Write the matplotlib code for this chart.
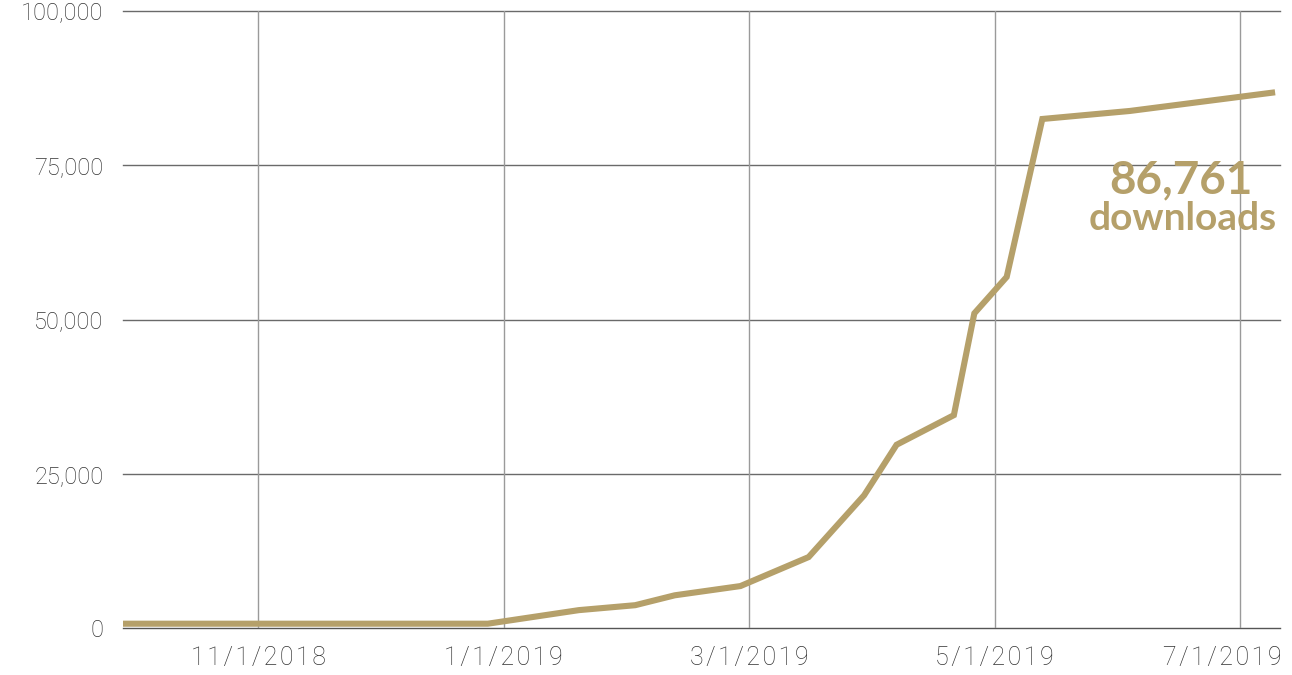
import matplotlib
matplotlib.use('Agg')
import matplotlib.pyplot as plt
import matplotlib.transforms as mtransforms
from matplotlib.ticker import FuncFormatter
import pandas as pd

# cumulative downloads
dates = ['2018-09-28', '2018-12-28', '2019-01-20', '2019-02-03', '2019-02-12',
         '2019-02-27', '2019-03-16', '2019-03-30', '2019-04-07', '2019-04-21',
         '2019-04-26', '2019-05-04', '2019-05-13', '2019-06-04', '2019-07-09']
downloads = [700, 700, 2900, 3700, 5300, 6800, 11500, 21500, 29700, 34500,
             51000, 56900, 82500, 83800, 86761]

tick_dates = ['2018-11-01', '2019-01-01', '2019-03-01', '2019-05-01', '2019-07-01']
tick_labels = ['11/1/2018', '1/1/2019', '3/1/2019', '5/1/2019', '7/1/2019']
y_ticks = [0, 25000, 50000, 75000, 100000]

total_label = '86,761'
unit_label = 'downloads'

gold = '#b5a06a'


# the axis spaces months evenly, so use a fractional month index
def month_pos(s):
    d = pd.Timestamp(s)
    return (d.year - 2019) * 12 + (d.month - 1) + (d.day - 1) / d.days_in_month


x = [month_pos(d) for d in dates]
xt = [month_pos(d) for d in tick_dates]

fig = plt.figure(figsize=(12.92, 6.75), dpi=100)
ax = fig.add_axes([0.0952, 0.0696, 0.8955, 0.9141])

ax.plot(x, downloads, color=gold, lw=4.4, solid_joinstyle='miter', zorder=3)

ax.set_xlim(x[0], month_pos('2019-07-11'))
ax.set_ylim(0, 100000)
ax.set_xticks(xt)
# small letter spacing, as in the original labels
ax.set_xticklabels(['\u200a'.join(t) for t in tick_labels])
ax.set_yticks(y_ticks)
ax.yaxis.set_major_formatter(FuncFormatter(lambda v, p: f'{int(v):,}'))

for v in y_ticks:
    ax.axhline(v, color='#555555' if v == 0 else '#6a6a6a', lw=1.0, zorder=1, clip_on=False)
for v in xt:
    ax.axvline(v, color='#9a9a9a', lw=1.0, zorder=1)

for s in ax.spines.values():
    s.set_visible(False)
ax.tick_params(length=0, labelcolor='#333333')
ax.tick_params(axis='x', pad=13, labelsize=18)
ax.tick_params(axis='y', pad=14, labelsize=17)
for lab in ax.get_xticklabels() + ax.get_yticklabels():
    lab.set_family('Roboto')
    lab.set_fontweight('light')

# last date label is pushed in so it stays inside the figure
last = ax.get_xticklabels()[-1]
last.set_horizontalalignment('right')
last.set_transform(last.get_transform() +
                   mtransforms.ScaledTranslation(0.41, 0, fig.dpi_scale_trans))

ax.text(5.515, 72600, total_label, color=gold, fontsize=33, fontweight='bold',
        family='Lato', ha='center', va='center')
ax.text(5.53, 66300, unit_label, color=gold, fontsize=28, fontweight='bold',
        family='Lato', ha='center', va='center')

fig.savefig('out.png', dpi=100)
